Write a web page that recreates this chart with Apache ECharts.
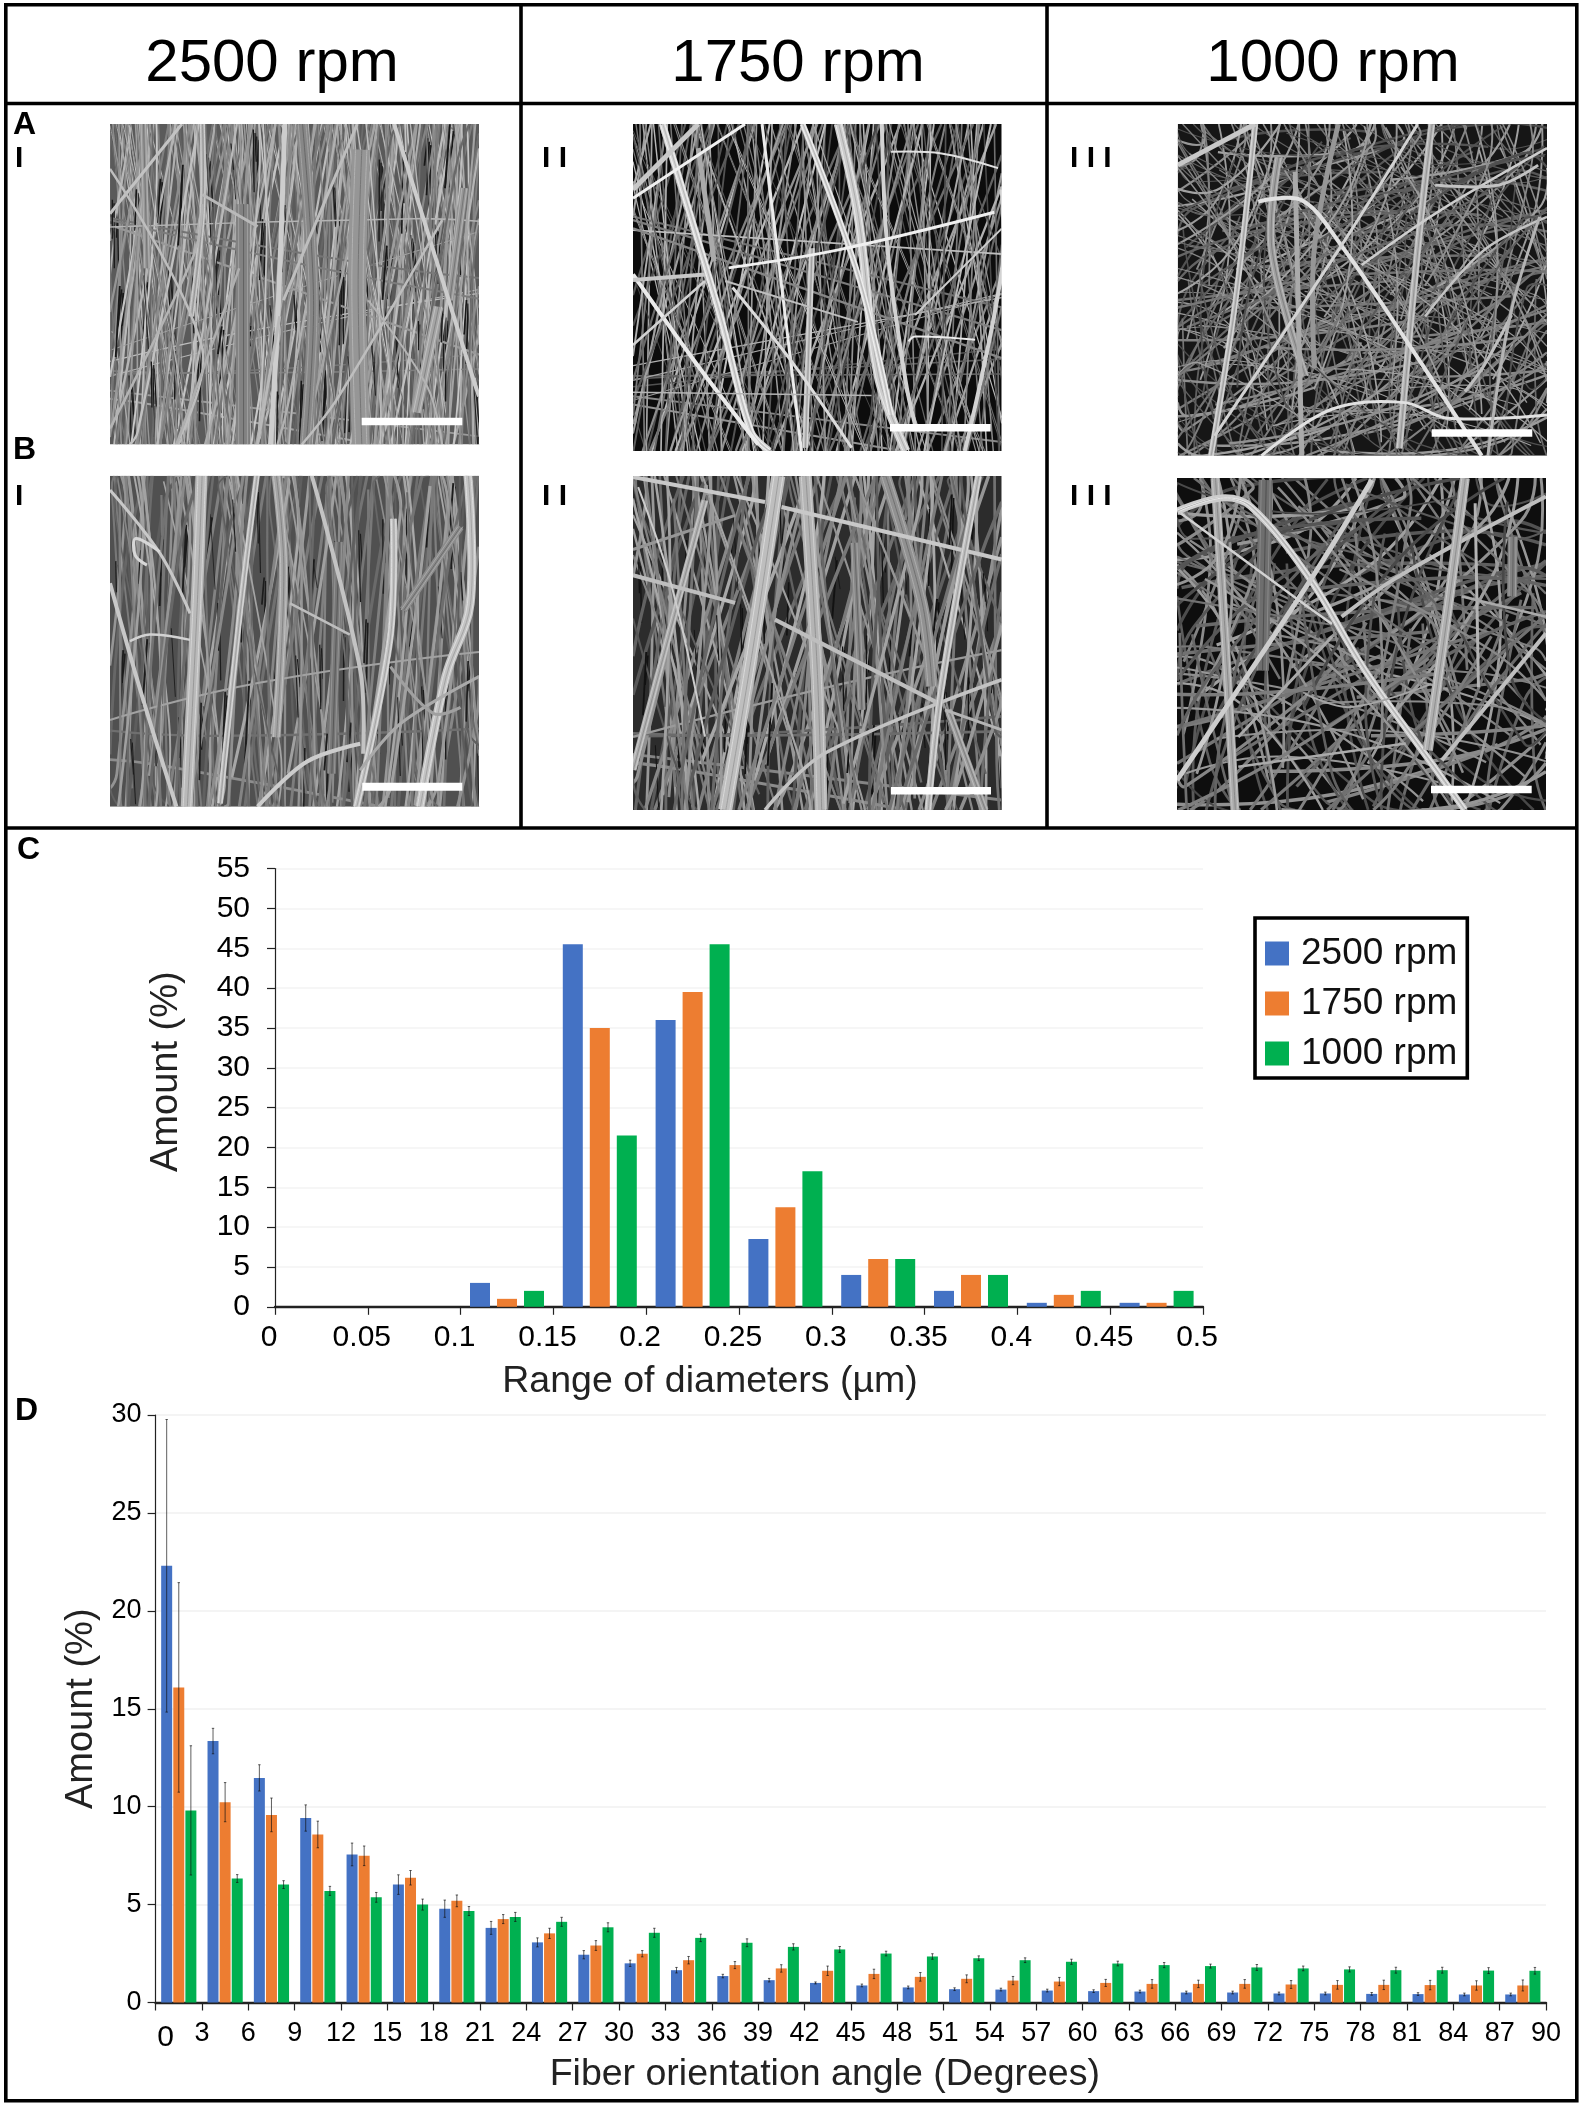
<!DOCTYPE html>
<html>
<head>
<meta charset="utf-8">
<style>
html, body { margin: 0; padding: 0; background: #fff; }
#main { width: 1580px; height: 2104px; }
</style>
<script src="https://cdn.jsdelivr.net/npm/echarts@6/dist/echarts.min.js"></script>
</head>
<body>
<div id="main"></div>
<script>
var FONT = '"Liberation Sans", Arial, sans-serif';
var BLUE = '#4472C4', ORANGE = '#ED7D31', GREEN = '#00B050';

// panel C, share of fibres per diameter bin
var diameterBins = ['0-0.05', '0.05-0.1', '0.1-0.15', '0.15-0.2', '0.2-0.25', '0.25-0.3', '0.3-0.35', '0.35-0.4', '0.4-0.45', '0.45-0.5'];
var diam2500 = [0, 0, 3, 45.5, 36, 8.5, 4, 2, 0.5, 0.5];
var diam1750 = [0, 0, 1, 35, 39.5, 12.5, 6, 4, 1.5, 0.5];
var diam1000 = [0, 0, 2, 21.5, 45.5, 17, 6, 4, 2, 2];

// panel D, share of fibres per 3 degree bin
var angleBins = ['0', '3', '6', '9', '12', '15', '18', '21', '24', '27', '30', '33', '36', '39', '42', '45', '48', '51', '54', '57', '60', '63', '66', '69', '72', '75', '78', '81', '84', '87'];
var angle2500 = [22.3, 13.35, 11.47, 9.42, 7.56, 6.02, 4.79, 3.81, 3.07, 2.44, 2.0, 1.65, 1.35, 1.14, 1.0, 0.87, 0.77, 0.68, 0.66, 0.61, 0.58, 0.56, 0.51, 0.51, 0.46, 0.46, 0.44, 0.43, 0.41, 0.41];
var angle1750 = [16.09, 10.23, 9.58, 8.58, 7.49, 6.37, 5.19, 4.26, 3.53, 2.91, 2.49, 2.16, 1.91, 1.74, 1.62, 1.46, 1.31, 1.21, 1.12, 1.07, 1.0, 0.95, 0.95, 0.95, 0.92, 0.9, 0.9, 0.89, 0.87, 0.87];
var angle1000 = [9.81, 6.33, 6.02, 5.7, 5.37, 5.0, 4.67, 4.37, 4.12, 3.84, 3.56, 3.3, 3.05, 2.84, 2.71, 2.5, 2.35, 2.26, 2.16, 2.08, 1.99, 1.91, 1.86, 1.79, 1.74, 1.69, 1.65, 1.65, 1.63, 1.62];
var err2500 = [7.47, 0.65, 0.67, 0.67, 0.58, 0.5, 0.44, 0.33, 0.23, 0.21, 0.16, 0.14, 0.09, 0.09, 0.05, 0.07, 0.07, 0.07, 0.07, 0.07, 0.07, 0.07, 0.07, 0.07, 0.07, 0.07, 0.07, 0.07, 0.07, 0.07];
var err1750 = [5.35, 1.0, 0.86, 0.68, 0.5, 0.37, 0.3, 0.23, 0.26, 0.25, 0.16, 0.19, 0.18, 0.19, 0.24, 0.24, 0.22, 0.2, 0.21, 0.21, 0.18, 0.22, 0.19, 0.22, 0.2, 0.22, 0.24, 0.24, 0.24, 0.28];
var err1000 = [3.3, 0.2, 0.2, 0.23, 0.25, 0.28, 0.23, 0.23, 0.23, 0.23, 0.23, 0.19, 0.2, 0.16, 0.15, 0.12, 0.14, 0.12, 0.12, 0.13, 0.12, 0.13, 0.1, 0.15, 0.12, 0.13, 0.15, 0.15, 0.15, 0.17];

var speeds = ['2500 rpm', '1750 rpm', '1000 rpm'];

// SEM photographs: the few fibres that stand out, traced in percent of the panel
// each entry: [width, grey, x0, y0, x1, y1, ...]
var fibresAI = [
  [18, 150, 68, 8, 67, 50, 68, 100], [12, 135, 52, 0, 55, 55, 53, 100], [14, 130, 36, 25, 36, 100],
  [10, 165, 89, 57, 83, 90], [8, 150, 96, 20, 92, 55], [7, 150, 9, 0, 10, 45],
  [5, 205, 47.4, 0, 45.5, 60, 43.5, 100], [6, 180, 25, 0, 25, 28, 22, 60], [4, 205, 77, 0, 98, 78, 100, 85],
  [3, 195, 0, 28, 19.5, 0], [3, 190, 67, 0, 47, 55], [3, 185, 25, 22, 40, 32], [2.5, 190, 90, 30, 62, 85, 52, 100],
  [2.5, 180, 0, 95, 23, 40, 25, 25], [2.5, 190, 0, 14, 25, 70, 18, 100], [3, 185, 46, 60, 40, 100],
  [2.5, 175, 35, 45, 18, 100], [2, 180, 70, 55, 86, 82, 90, 100]
];
var fibresAII = [
  [3, 235, 35, 0, 41, 56, 45.7, 100], [6, 190, 48.5, 38, 46.7, 99], [5, 170, 17.7, 7.4, 22, 42],
  [7, 215, 8, 0, 23.5, 58, 32, 94, 37, 100], [4, 235, 0, 46, 17, 73, 34, 98], [9, 205, 55.7, 0, 61, 28, 66.5, 77, 74, 100],
  [6, 215, 46, 0, 61, 46, 70, 89], [4, 210, 67.5, 0, 69, 38, 74, 79, 76.5, 92], [3, 240, 0, 22.7, 30.4, 0],
  [5, 200, 0, 20, 17.7, 0], [3, 240, 25.9, 44, 55.7, 38.5, 98, 27], [2, 190, 25, 48, 61, 60.5],
  [4, 200, 0, 47.7, 19.5, 46], [3, 220, 27, 50, 43, 72.6, 59.3, 99], [2, 225, 70, 8.5, 83.7, 9, 99, 13.5],
  [2, 235, 74.7, 66.5, 76.5, 65, 92.8, 66], [1.5, 180, 0, 82, 64.7, 83], [2, 205, 76.5, 58.4, 100, 32],
  [2.5, 210, 0, 67.6, 19.5, 48], [4, 210, 90, 100, 100, 45, 100, 20]
];
var fibresAIII = [
  [8, 160, 27.3, 10, 25.4, 37.5, 34.5, 76], [5, 170, 31.8, 14.4, 33.6, 100], [5, 150, 43.5, 0, 37, 37.5, 37, 73.7],
  [6, 190, 21, 0, 15.6, 53.6, 9, 100], [5, 200, 0, 12.4, 21, 0], [7, 180, 68.8, 0, 65, 37.5, 60, 97.8],
  [4, 225, 21.8, 23.4, 33.6, 23, 44.4, 36.8, 61.5, 64.6, 82.3, 100], [3, 210, 65, 0, 44.4, 36.5, 10, 94],
  [3, 225, 22.7, 100, 41.7, 86, 61.5, 84, 73, 88.7, 100, 87.7], [2.5, 205, 49.8, 42.5, 70.6, 26.4, 100, 7.3],
  [3, 195, 69.7, 18.4, 87, 18.4, 97.6, 12.4], [3, 190, 90.4, 57.6, 83, 72.7, 77.8, 80.7], [2.5, 195, 100, 28, 83, 38, 67, 58],
  [3, 180, 98, 28, 90, 58, 84, 100]
];
var fibresBI = [
  [9, 165, 45, 0, 47, 28.5, 45, 79], [8, 140, 79.5, 40.6, 94.9, 15.4], [9, 120, 62, 20, 60, 90],
  [12, 185, 24.8, 0, 23.5, 38.6, 20.8, 100], [6, 190, 39.8, 0, 35.2, 41.6, 29.8, 99], [9, 195, 97, 0, 97.6, 38.6, 91, 60.7, 84, 100],
  [7, 195, 76.8, 13, 75.9, 49, 66.8, 100], [4, 200, 0, 32.5, 8, 64, 18, 100], [4, 195, 54.7, 0, 67.8, 58.7, 68.6, 84],
  [4, 205, 40, 100, 53.3, 86.4, 67.8, 81], [2.5, 210, 5.4, 50, 10.8, 48, 21.7, 49.6], [3, 200, 0, 4.3, 13.5, 23.4, 21.7, 41.6],
  [3, 215, 13.5, 23, 7, 19, 6.8, 24, 10, 27], [3, 170, 100, 60.7, 78.6, 75, 67.8, 89], [3, 160, 76, 57.7, 87.6, 71.8, 95, 70],
  [2.5, 190, 48.8, 38.6, 65, 48]
];
var fibresBII = [
  [12, 145, 68.4, 0, 78.3, 38, 81, 63], [7, 160, 85.5, 70, 95.5, 100], [3, 150, 0, 22, 27.7, 11.8], [8, 135, 60, 20, 62, 70],
  [14, 190, 39.4, 0, 32, 54, 25, 100], [13, 180, 46.7, 0, 49.8, 58, 51, 100], [7, 175, 19.5, 7.3, 6, 63, 0, 88],
  [4, 200, 0, 0.3, 35.8, 7.8], [4, 200, 40.3, 9.3, 100, 25], [4, 190, 38.5, 43, 82.8, 68], [3.5, 195, 35.8, 100, 52, 83, 100, 61],
  [7, 190, 93.7, 0, 83.7, 63, 80, 100], [4, 190, 0, 29.7, 27.7, 38], [2, 205, 1.4, 3.3, 10.5, 33, 19.5, 78], [3, 180, 84.6, 70, 100, 76]
];
var fibresBIII = [
  [14, 110, 24, 0.6, 23, 58], [9, 170, 10.3, 0, 13, 48, 15.7, 100], [10, 130, 91, 17.7, 90.8, 35.7],
  [7, 205, 0, 10, 12, 6, 20, 8.6, 35.6, 29.7, 51, 58, 69, 86, 78, 100], [5, 205, 0, 91, 35.6, 31.7, 52.8, 0.6],
  [2.5, 210, 1, 10.6, 32, 36, 42, 44], [4, 190, 44.6, 41.8, 60, 29.7, 100, 5.6], [10, 175, 78, 0, 73.6, 37.7, 68, 82],
  [3, 170, 16.6, 78, 42, 47.8], [4, 190, 71.8, 85, 100, 46.8], [2.5, 170, 16.6, 87, 62, 80], [2, 165, 34.7, 65, 47, 69, 69, 62],
  [3, 180, 80.8, 7.6, 81.7, 63], [2.5, 170, 77.2, 35.7, 100, 41.8]
];

// where the photographs sit, with their grey level and the look of the fine fibres behind the traced ones
var panels = [
  { x: 110, y: 124, w: 369, h: 320.5, bg: '#5a5a5a', n: 330, spread: 13, curl: 3, across: 0.03, maxLen: 400, lo: 100, hi: 200, fw: 0.9, dark: 24, fibres: fibresAI, bar: [361.7, 417.7, 100.6, 7.6] },
  { x: 633, y: 124, w: 368.7, h: 327, bg: '#0c0c0c', n: 210, spread: 24, curl: 0, across: 0.06, maxLen: 400, lo: 70, hi: 190, fw: 0.9, dark: 0, fibres: fibresAII, bar: [890, 424, 100.7, 7.6] },
  { x: 1177.7, y: 124, w: 369.3, h: 331.7, bg: '#161616', n: 340, spread: 90, curl: 12, across: 0, maxLen: 130, lo: 75, hi: 165, fw: 1, dark: 0, fibres: fibresAIII, bar: [1431.7, 429.3, 100.6, 7.4] },
  { x: 110, y: 475.7, w: 369, h: 331, bg: '#505050', n: 170, spread: 10, curl: 6, across: 0.02, maxLen: 300, lo: 90, hi: 170, fw: 1.6, dark: 28, fibres: fibresBI, bar: [362.3, 782.7, 100, 8] },
  { x: 633, y: 476, w: 368.7, h: 334, bg: '#2c2c2c', n: 150, spread: 22, curl: 3, across: 0.03, maxLen: 300, lo: 85, hi: 170, fw: 2, dark: 18, fibres: fibresBII, bar: [891, 787, 100, 7.6] },
  { x: 1177, y: 478, w: 369, h: 332, bg: '#0e0e0e', n: 170, spread: 90, curl: 14, across: 0, maxLen: 170, lo: 70, hi: 160, fw: 2, dark: 0, fibres: fibresBIII, bar: [1431, 785.7, 100.7, 7.6] }
];

function frac(v) { return v - Math.floor(v); }
function greyOf(g) { return 'rgb(' + g + ',' + g + ',' + g + ')'; }
function clamp(v, a, b) { return Math.max(a, Math.min(b, v)); }

function fibreEl(points, width, grey, smooth) {
  return {
    type: 'polyline', silent: true,
    shape: { points: points, smooth: smooth || 0 },
    style: { stroke: greyOf(grey), lineWidth: width, fill: null, lineCap: 'butt' }
  };
}

// background fibres: a plain low-discrepancy walk, no dice, so every run draws the same picture
function fineFibres(p) {
  var out = [];
  for (var k = 1; k <= p.n; k++) {
    var u = frac(k * 0.61803), v = frac(k * 0.75488), w = frac(k * 0.56984), t = frac(k * 0.24512);
    var deg = (v - 0.5) * 2 * p.spread;
    if (frac(k * 0.1347) < p.across) deg = 70 + 40 * v;
    var a = deg * Math.PI / 180, dx = Math.sin(a), dy = Math.cos(a);
    var cx = p.x + u * p.w, cy = p.y + frac(k * 0.3247) * p.h;
    // walk to the panel edge in both directions
    var s1 = p.maxLen, s2 = p.maxLen;
    if (Math.abs(dy) > 1e-3) { s1 = Math.min(s1, (dy > 0 ? p.y + p.h - cy : p.y - cy) / dy); s2 = Math.min(s2, (dy > 0 ? cy - p.y : cy - p.y - p.h) / dy); }
    if (Math.abs(dx) > 1e-3) { s1 = Math.min(s1, (dx > 0 ? p.x + p.w - cx : p.x - cx) / dx); s2 = Math.min(s2, (dx > 0 ? cx - p.x : cx - p.x - p.w) / dx); }
    var bend = (w - 0.5) * p.curl * 4;
    var mx = clamp(cx + bend * dy, p.x, p.x + p.w), my = clamp(cy - bend * dx, p.y, p.y + p.h);
    var grey = Math.round(p.lo + (p.hi - p.lo) * w);
    var pts = [[cx - dx * s2, cy - dy * s2], [mx, my], [cx + dx * s1, cy + dy * s1]];
    out.push(fibreEl(pts, p.fw + 1.5 * t, grey, p.curl ? 0.5 : 0));
    // dark gaps between the fibres
    if (p.dark && k % 2 === 0) {
      var gx = p.x + frac(k * 0.8191) * p.w;
      var gy = p.y + frac(k * 0.2871) * p.h * 0.85;
      var gend = Math.min(p.y + p.h, gy + 25 + 60 * w);
      out.push(fibreEl([[gx, gy], [clamp(gx + (v - 0.5) * 10, p.x, p.x + p.w), gend]], 0.8 + 1.2 * t, p.dark));
    }
  }
  return out;
}

function panelEls(p) {
  var els = [{ type: 'rect', silent: true, shape: { x: p.x, y: p.y, width: p.w, height: p.h }, style: { fill: p.bg } }];
  els = els.concat(fineFibres(p));
  p.fibres.forEach(function (f) {
    var pts = [];
    for (var i = 2; i < f.length; i += 2) pts.push([p.x + f[i] / 100 * p.w, p.y + f[i + 1] / 100 * p.h]);
    var smooth = pts.length > 2 ? 0.35 : 0;
    els.push(fibreEl(pts, f[0], f[1], smooth));
    // a thick fibre is really a bundle, so give it strands
    if (f[0] >= 6) {
      [-0.3, 0.05, 0.33].forEach(function (s, j) {
        var strand = pts.map(function (q) { return [q[0] + s * f[0], q[1]]; });
        els.push(fibreEl(strand, 1, clamp(f[1] + (j === 1 ? -32 : 28), 0, 255), smooth));
      });
    }
  });
  // trim whatever leaves the photograph
  [[p.x - 14, p.y - 14, p.w + 28, 14], [p.x - 14, p.y + p.h, p.w + 28, 14], [p.x - 14, p.y, 14, p.h], [p.x + p.w, p.y, 14, p.h]].forEach(function (m) {
    els.push({ type: 'rect', silent: true, shape: { x: m[0], y: m[1], width: m[2], height: m[3] }, style: { fill: '#fff' } });
  });
  els.push({ type: 'rect', silent: true, shape: { x: p.bar[0], y: p.bar[1], width: p.bar[2], height: p.bar[3] }, style: { fill: '#fff' } });
  return els;
}

function ruleLine(x1, y1, x2, y2) {
  return { type: 'line', silent: true, shape: { x1: x1, y1: y1, x2: x2, y2: y2 }, style: { stroke: '#000', lineWidth: 3.6 } };
}
function label(text, x, y, size, weight, align) {
  return {
    type: 'text', silent: true, x: x, y: y,
    style: { text: text, fontFamily: FONT, fontSize: size, fontWeight: weight || 'normal', fill: '#000', textAlign: align || 'left', textVerticalAlign: 'middle' }
  };
}

var elements = [];
panels.forEach(function (p) { elements = elements.concat(panelEls(p)); });
elements.push(
  { type: 'rect', silent: true, shape: { x: 5.8, y: 4.7, width: 1571, height: 2096 }, style: { fill: null, stroke: '#000', lineWidth: 3.6 } },
  ruleLine(5.8, 103.5, 1576.8, 103.5), ruleLine(5.8, 828, 1576.8, 828),
  ruleLine(521, 4.7, 521, 828), ruleLine(1047, 4.7, 1047, 828),
  label(speeds[0], 272, 64, 60, 'normal', 'center'),
  label(speeds[1], 798, 64, 60, 'normal', 'center'),
  label(speeds[2], 1333, 64, 60, 'normal', 'center'),
  label('A', 13, 125, 32, 'bold'), label('B', 13, 450, 32, 'bold'),
  label('C', 17, 850, 32, 'bold'), label('D', 15, 1411, 32, 'bold'),
  label('I', 15, 159, 30, 'bold'), label('I I', 542, 159, 30, 'bold'), label('I I I', 1070, 159, 30, 'bold'),
  label('I', 15, 497, 30, 'bold'), label('I I', 542, 497, 30, 'bold'), label('I I I', 1070, 497, 30, 'bold')
);

function errorSeries(name, values, errs, offset) {
  return {
    name: name, type: 'custom', xAxisIndex: 3, yAxisIndex: 1, z: 5, silent: true,
    data: values.map(function (v, i) { return [i, v - errs[i], v + errs[i]]; }),
    encode: { x: 0, y: [1, 2] },
    renderItem: function (params, api) {
      var lo = api.coord([api.value(0), api.value(1)]);
      var hi = api.coord([api.value(0), api.value(2)]);
      var x = lo[0] + offset;
      var st = { stroke: '#111', lineWidth: 0.9, opacity: 0.75 };
      return {
        type: 'group',
        children: [
          { type: 'line', shape: { x1: x, y1: lo[1], x2: x, y2: hi[1] }, style: st },
          { type: 'line', shape: { x1: x - 1.2, y1: lo[1], x2: x + 1.2, y2: lo[1] }, style: st },
          { type: 'line', shape: { x1: x - 1.2, y1: hi[1], x2: x + 1.2, y2: hi[1] }, style: st }
        ]
      };
    }
  };
}

function barSeries(name, values, color, xIdx, yIdx, width, gap) {
  return {
    name: name, type: 'bar', xAxisIndex: xIdx, yAxisIndex: yIdx, data: values,
    barWidth: width, barGap: gap, silent: true, itemStyle: { color: color }
  };
}

var tickText = { color: '#000', fontFamily: FONT, hideOverlap: false, showMinLabel: true, showMaxLabel: true };
function axisBits(width, size) {
  return {
    axisLine: { show: true, onZero: false, lineStyle: { color: '#222', width: width } },
    axisTick: { show: true, length: 8, lineStyle: { color: '#222', width: 1.2 } },
    axisLabel: Object.assign({ fontSize: size }, tickText)
  };
}

var yC = Object.assign(axisBits(1.2, 30), {
  type: 'value', gridIndex: 0, min: 0, max: 55, interval: 5,
  name: 'Amount (%)', nameLocation: 'middle', nameGap: 89,
  nameTextStyle: { fontFamily: FONT, fontSize: 38, color: '#222', padding: [0, 0, 0, 32] },
  splitLine: { show: true, lineStyle: { color: '#f3f3f3', width: 1.5 } }
});
yC.axisLabel.margin = 25;

var xC = Object.assign(axisBits(2.4, 30), {
  type: 'value', gridIndex: 0, position: 'bottom', min: 0, max: 0.5, interval: 0.05,
  name: 'Range of diameters (\u00b5m)', nameLocation: 'middle', nameGap: 56,
  nameTextStyle: { fontFamily: FONT, fontSize: 37.5, color: '#222', padding: [0, 58, 0, 0] },
  splitLine: { show: false }
});
xC.axisLabel.margin = 16;
xC.axisLabel.padding = [0, 12, 0, 0];

var yD = Object.assign(axisBits(1.2, 27), {
  type: 'value', gridIndex: 1, min: 0, max: 30, interval: 5,
  name: 'Amount (%)', nameLocation: 'middle', nameGap: 55,
  nameTextStyle: { fontFamily: FONT, fontSize: 38, color: '#222' },
  splitLine: { show: true, lineStyle: { color: '#f0f0f0', width: 1.5 } }
});
yD.axisLabel.margin = 14;

var xD = Object.assign(axisBits(2.4, 27), {
  type: 'value', gridIndex: 1, position: 'bottom', min: 0, max: 90, interval: 3,
  name: 'Fiber orientation angle (Degrees)', nameLocation: 'middle', nameGap: 53,
  nameTextStyle: { fontFamily: FONT, fontSize: 37.5, color: '#222', padding: [0, 52, 0, 0] },
  splitLine: { show: false }
});
xD.axisLabel.margin = 18;
xD.axisLabel.formatter = function (v) { return v === 0 ? '{zero|0}' : String(v); };
xD.axisLabel.rich = { zero: { fontSize: 30, fontFamily: FONT, color: '#000', padding: [2, 0, 0, 20] } };

var option = {
  backgroundColor: '#fff',
  animation: false,
  textStyle: { fontFamily: FONT },
  grid: [
    { left: 275, top: 868.6, width: 928, height: 438.2, containLabel: false },
    { left: 155.6, top: 1415, width: 1390.4, height: 587.5, containLabel: false }
  ],
  legend: {
    show: true, selectedMode: false, orient: 'vertical', left: 1255, top: 918,
    data: speeds, icon: 'rect', itemWidth: 24, itemHeight: 24, itemGap: 13,
    padding: [17, 10, 6, 10], backgroundColor: '#fff', borderColor: '#000', borderWidth: 3.6,
    textStyle: { fontFamily: FONT, fontSize: 37, color: '#111', padding: [3, 0, 0, 7] }
  },
  xAxis: [
    xC,
    { type: 'category', gridIndex: 0, position: 'bottom', show: false, data: diameterBins },
    xD,
    { type: 'category', gridIndex: 1, position: 'bottom', show: false, data: angleBins }
  ],
  yAxis: [yC, yD],
  series: [
    barSeries(speeds[0], diam2500, BLUE, 1, 0, 20, '35%'),
    barSeries(speeds[1], diam1750, ORANGE, 1, 0, 20, '35%'),
    barSeries(speeds[2], diam1000, GREEN, 1, 0, 20, '35%'),
    barSeries(speeds[0], angle2500, BLUE, 3, 1, 11, '10%'),
    barSeries(speeds[1], angle1750, ORANGE, 3, 1, 11, '10%'),
    barSeries(speeds[2], angle1000, GREEN, 3, 1, 11, '10%'),
    errorSeries('err 2500', angle2500, err2500, -12.1),
    errorSeries('err 1750', angle1750, err1750, 0),
    errorSeries('err 1000', angle1000, err1000, 12.1)
  ],
  graphic: { elements: elements }
};

var chart = echarts.init(document.getElementById('main'), null, { renderer: 'canvas' });
chart.setOption(option);
</script>
</body>
</html>
